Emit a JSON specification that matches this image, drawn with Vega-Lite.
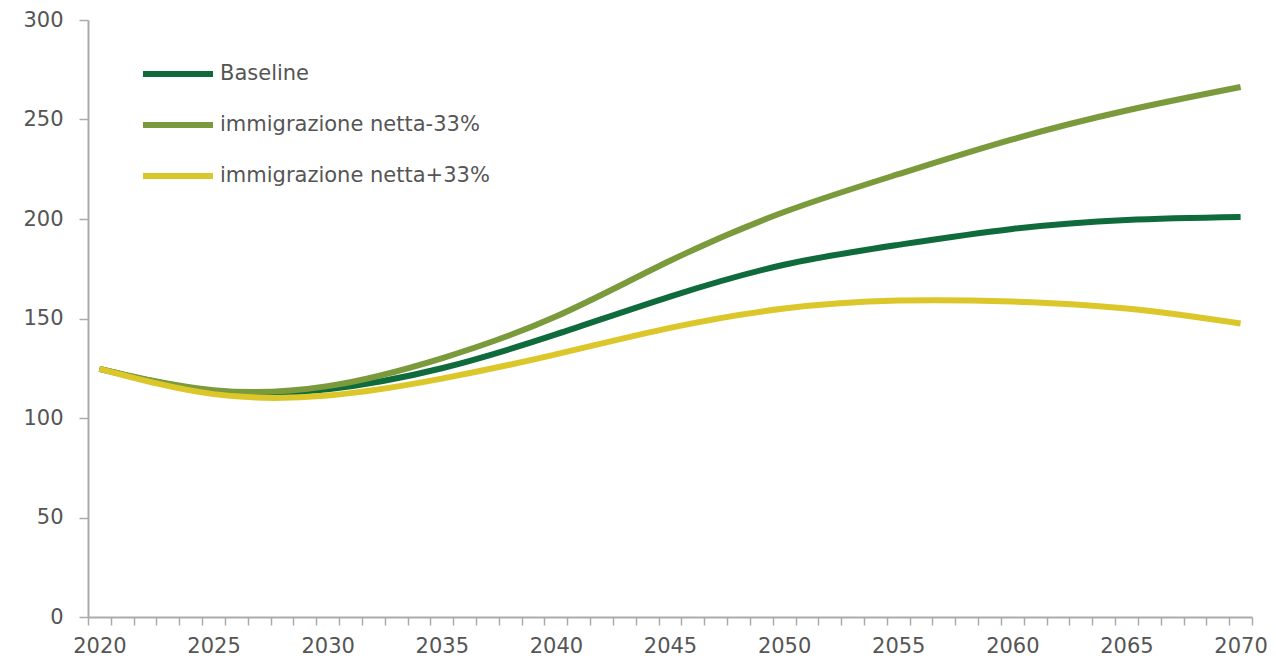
{
  "$schema": "https://vega.github.io/schema/vega-lite/v6.json",
  "width": 1164,
  "height": 597,
  "autosize": "none",
  "padding": {"left": 88, "top": 20, "right": 24, "bottom": 44},
  "background": "white",
  "config": {"view": {"stroke": null}, "font": "DejaVu Sans"},
  "data": {"values": [
    {"year": 2020, "serie": "Baseline", "v": 124.7},
    {"year": 2025, "serie": "Baseline", "v": 113.5},
    {"year": 2030, "serie": "Baseline", "v": 114.5},
    {"year": 2035, "serie": "Baseline", "v": 125},
    {"year": 2040, "serie": "Baseline", "v": 142},
    {"year": 2045, "serie": "Baseline", "v": 161},
    {"year": 2050, "serie": "Baseline", "v": 177},
    {"year": 2055, "serie": "Baseline", "v": 187},
    {"year": 2060, "serie": "Baseline", "v": 195},
    {"year": 2065, "serie": "Baseline", "v": 199.5},
    {"year": 2070, "serie": "Baseline", "v": 201},
    {"year": 2020, "serie": "immigrazione netta-33%", "v": 124.7},
    {"year": 2025, "serie": "immigrazione netta-33%", "v": 114},
    {"year": 2030, "serie": "immigrazione netta-33%", "v": 116},
    {"year": 2035, "serie": "immigrazione netta-33%", "v": 130},
    {"year": 2040, "serie": "immigrazione netta-33%", "v": 151},
    {"year": 2045, "serie": "immigrazione netta-33%", "v": 179},
    {"year": 2050, "serie": "immigrazione netta-33%", "v": 203.5},
    {"year": 2055, "serie": "immigrazione netta-33%", "v": 222.5},
    {"year": 2060, "serie": "immigrazione netta-33%", "v": 240},
    {"year": 2065, "serie": "immigrazione netta-33%", "v": 254.5},
    {"year": 2070, "serie": "immigrazione netta-33%", "v": 266.3},
    {"year": 2020, "serie": "immigrazione netta+33%", "v": 124.7},
    {"year": 2025, "serie": "immigrazione netta+33%", "v": 112},
    {"year": 2030, "serie": "immigrazione netta+33%", "v": 111.3},
    {"year": 2035, "serie": "immigrazione netta+33%", "v": 119.8},
    {"year": 2040, "serie": "immigrazione netta+33%", "v": 132},
    {"year": 2045, "serie": "immigrazione netta+33%", "v": 145.3},
    {"year": 2050, "serie": "immigrazione netta+33%", "v": 155},
    {"year": 2055, "serie": "immigrazione netta+33%", "v": 159},
    {"year": 2060, "serie": "immigrazione netta+33%", "v": 158.5},
    {"year": 2065, "serie": "immigrazione netta+33%", "v": 155},
    {"year": 2070, "serie": "immigrazione netta+33%", "v": 147.5}
  ]},
  "mark": {"type": "line", "strokeWidth": 6, "interpolate": "natural", "strokeCap": "butt"},
  "encoding": {
    "x": {
      "field": "year", "type": "ordinal", "bandPosition": 0.5,
      "scale": {"type": "band", "paddingInner": 0, "paddingOuter": 0,
        "domain": [2020,2021,2022,2023,2024,2025,2026,2027,2028,2029,2030,2031,2032,2033,2034,2035,2036,2037,2038,2039,2040,2041,2042,2043,2044,2045,2046,2047,2048,2049,2050,2051,2052,2053,2054,2055,2056,2057,2058,2059,2060,2061,2062,2063,2064,2065,2066,2067,2068,2069,2070]},
      "axis": {
        "title": null, "tickBand": "extent", "labelAngle": 0,
        "labelExpr": "datum.value % 5 === 0 ? datum.label : ''",
        "domainColor": "#ababab", "domainWidth": 2, "tickColor": "#ababab", "tickWidth": 1.5, "tickSize": 8,
        "labelFontSize": 21, "labelColor": "#555555", "labelPadding": 10, "labelFont": "DejaVu Sans"
      }
    },
    "y": {
      "field": "v", "type": "quantitative",
      "scale": {"domain": [0, 300], "nice": false, "zero": true},
      "axis": {
        "title": null, "values": [0, 50, 100, 150, 200, 250, 300], "grid": false,
        "domainColor": "#ababab", "domainWidth": 2, "tickColor": "#ababab", "tickWidth": 1.5, "tickSize": 9,
        "labelFontSize": 21, "labelColor": "#555555", "labelPadding": 16, "labelFont": "DejaVu Sans"
      }
    },
    "color": {
      "field": "serie", "type": "nominal",
      "scale": {"domain": ["Baseline", "immigrazione netta-33%", "immigrazione netta+33%"], "range": ["#0f6b3b", "#7a9a3c", "#dbc72a"]},
      "legend": {
        "title": null, "orient": "none", "legendX": 52, "legendY": 16,
        "symbolType": "stroke", "symbolSize": 4900, "symbolStrokeWidth": 6,
        "labelFontSize": 21, "labelColor": "#555555", "labelOffset": 4, "rowPadding": 1,
        "labelLimit": 500, "labelFont": "DejaVu Sans"
      }
    }
  }
}
